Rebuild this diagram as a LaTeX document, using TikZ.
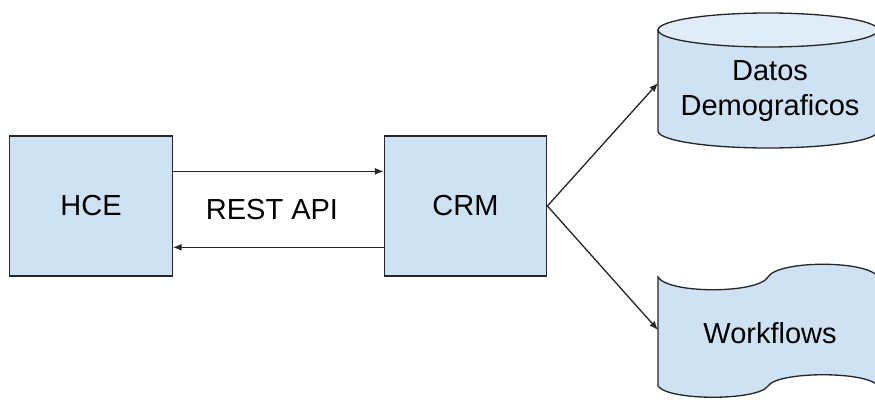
\documentclass[tikz,border=0pt]{standalone}
\usepackage{fontspec}
\setmainfont{Liberation Sans}
\usetikzlibrary{arrows.meta,calc}
\definecolor{boxblue}{HTML}{CFE2F3}
\definecolor{topblue}{HTML}{E0ECF7}
\tikzset{
  blockbox/.style={draw=black!85, line width=0.75pt, fill=boxblue, minimum width=3.25cm, minimum height=2.8cm, inner sep=0pt, font=\fontsize{16.5}{20}\selectfont},
  lbl/.style={font=\fontsize{16.5}{20}\selectfont, align=center, inner sep=0pt},
  shapeline/.style={draw=black!85, line width=0.75pt, fill=boxblue},
  arr/.style={draw=black!85, line width=0.75pt, -{Latex[length=5pt,width=4pt]}}
}
\begin{document}
\begin{tikzpicture}[x=0.02cm,y=-0.02cm]
\useasboundingbox (0,0) rectangle (875,399);
\begin{scope}
\clip (0,0) rectangle (875,399);
% nodes
\node[blockbox] (hce) at (91,206) {HCE};
\node[blockbox] (crm) at (465.5,206) {CRM};
\node[lbl] (rest) at (272,210) {REST API};
% cylinder
\path[shapeline] (658,30) -- (658,131)
  .. controls (658,140.4) and (707.2,148) .. (768,148)
  .. controls (828.8,148) and (878,140.4) .. (878,131)
  -- (878,30) -- cycle;
\draw[draw=black!85, line width=0.75pt, fill=topblue] (768,30) ellipse [x radius=110, y radius=17];
\node[lbl] (datos) at (770,91) {Datos\\Demograficos};
\coordinate (cylin) at (658,83);
% punched tape
\path[shapeline] (658,277)
  .. controls (668,294) and (758,294) .. (768,277)
  .. controls (778,260) and (868,260) .. (878,277)
  -- (878,386)
  .. controls (868,371) and (778,371) .. (768,386)
  .. controls (758,401) and (668,401) .. (658,386) -- cycle;
\node[lbl] (work) at (770,333) {Workflows};
\coordinate (tapein) at (658,330);
% connectors
\draw[arr] ([yshift=-0.72cm]hce.north east) -- ([yshift=-0.72cm]crm.north west);
\draw[arr] ([yshift=-2.24cm]crm.north west) -- ([yshift=-2.24cm]hce.north east);
\draw[arr] (crm.east) -- (cylin);
\draw[arr] (crm.east) -- (tapein);
\end{scope}
\end{tikzpicture}
\end{document}
